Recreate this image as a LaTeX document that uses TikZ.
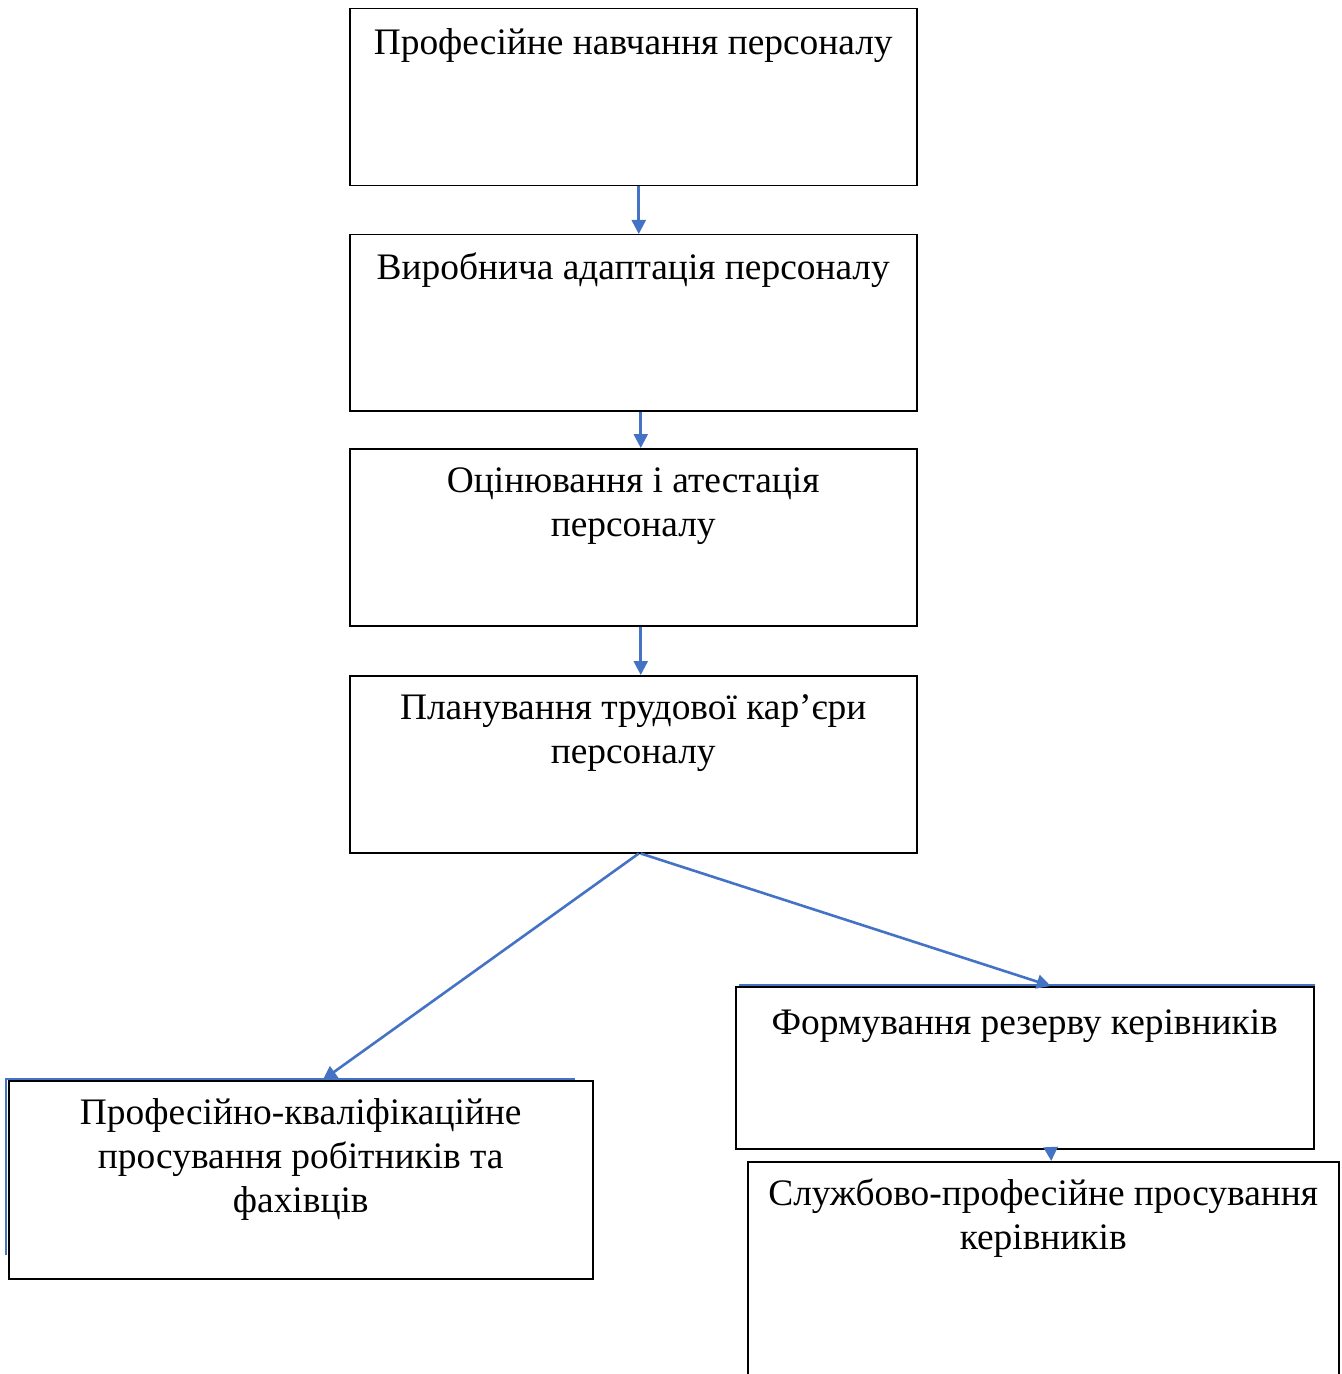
\documentclass[tikz,border=0pt]{standalone}
\usepackage{fontspec}
\setmainfont{Liberation Serif}
\usetikzlibrary{arrows.meta}

\definecolor{arrblue}{HTML}{4472C4}

\tikzset{
	box/.style={draw=black, line width=0.75pt, fill=white, anchor=north west, inner sep=0pt},
	boxtext/.style={anchor=base, align=center, inner sep=0pt, font=\fontsize{18.7}{22}\selectfont},
	arr/.style={draw=arrblue, line width=1.3pt, -{Triangle[length=7pt,width=7pt]}},
	ghost/.style={draw=arrblue, line width=0.8pt}
}

\begin{document}
\begin{tikzpicture}[x=0.5pt,y=-0.5pt]
		\clip (0,0) rectangle (1341,1374);

		% main column
		\node[box, minimum width=283.5pt, minimum height=88.5pt] (navch) at (349,8) {};
		\node[boxtext] (tnavch) at ([yshift=-23.5pt]navch.north) {Професійне навчання персоналу};

		\node[box, minimum width=283.5pt, minimum height=88pt] (adapt) at (349,234) {};
		\node[boxtext] (tadapt) at ([yshift=-23pt]adapt.north) {Виробнича адаптація персоналу};

		% base of a two-line text is its last line
		\node[box, minimum width=283.5pt, minimum height=88.5pt] (otsin) at (349,448) {};
		\node[boxtext] (totsin) at ([yshift=-44pt]otsin.north) {Оцінювання і атестація\\персоналу};

		\node[box, minimum width=283.5pt, minimum height=88.5pt] (karier) at (349,675) {};
		\node[boxtext] (tkarier) at ([yshift=-44pt]karier.north) {Планування трудової кар’єри\\персоналу};

		% left branch
		\draw[ghost] (6,1255) -- (6,1079) -- (575,1079);
		\node[box, minimum width=292pt, minimum height=99pt] (robit) at (8,1080) {};
		\node[boxtext] (trobit) at ([yshift=-66pt]robit.north) {Професійно-кваліфікаційне\\просування робітників та\\фахівців};

		% right branch
		\draw[ghost] (739,985) -- (1314,985) -- (1314,1125);
		\node[box, minimum width=289pt, minimum height=81pt] (rezerv) at (735,986) {};
		\node[boxtext] (trezerv) at ([yshift=-24pt]rezerv.north) {Формування резерву керівників};

		\node[box, minimum width=295.5pt, minimum height=125pt] (kerivn) at (747,1161) {};
		\node[boxtext] (tkerivn) at ([yshift=-44pt]kerivn.north) {Службово-професійне просування\\керівників};

		% arrows
		\draw[arr] ([xshift=2.75pt]navch.south) -- ([xshift=2.75pt]adapt.north);
		\draw[arr] ([xshift=3.75pt]adapt.south) -- ([xshift=3.75pt]otsin.north);
		\draw[arr] ([xshift=3.75pt]otsin.south) -- ([xshift=3.75pt]karier.north);
		\draw[arr] ([xshift=2.75pt]karier.south) -- ([xshift=11pt]robit.north);
		\draw[arr] ([xshift=3.75pt]karier.south) -- ([xshift=13pt]rezerv.north);
		\draw[arr] ([xshift=13pt]rezerv.south) -- ([xshift=4pt]kerivn.north);

	\end{tikzpicture}
\end{document}
